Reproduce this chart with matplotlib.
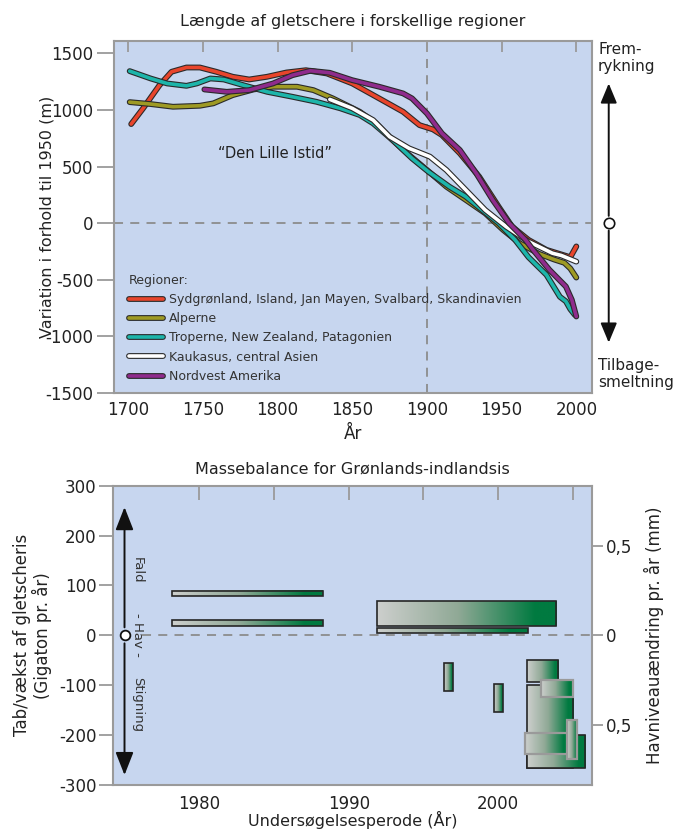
import numpy as np
import matplotlib
matplotlib.use('Agg')
import matplotlib.pyplot as plt
import matplotlib.patheffects as pe
import matplotlib.transforms as mtransforms
from matplotlib.colors import LinearSegmentedColormap
from matplotlib.patches import Rectangle

# ---- top chart: glacier length relative to 1950 (m) ----
red_year = [1702, 1710, 1721, 1729, 1739, 1748, 1759, 1770, 1781, 1793, 1806, 1819, 1833,
            1850, 1868, 1884, 1895, 1904, 1910, 1922, 1935, 1948, 1957, 1968, 1980, 1991,
            1996, 2000]
red_val = [876, 1015, 1220, 1338, 1376, 1376, 1338, 1294, 1270, 1294, 1332, 1352, 1323,
           1235, 1103, 985, 867, 829, 779, 618, 411, 146, -30, -147, -235, -280, -300, -205]

olive_year = [1701, 1715, 1730, 1748, 1757, 1770, 1784, 1797, 1813, 1824, 1837, 1855, 1866,
              1877, 1888, 1900, 1913, 1926, 1939, 1951, 1962, 1975, 1985, 1992, 1996, 2000]
olive_val = [1070, 1053, 1029, 1038, 1059, 1132, 1182, 1206, 1206, 1176, 1103, 985, 882,
             735, 603, 470, 323, 206, 88, -59, -176, -270, -320, -350, -400, -480]

teal_year = [1701, 1715, 1726, 1739, 1746, 1755, 1764, 1777, 1793, 1810, 1826, 1842, 1855,
             1864, 1877, 1890, 1901, 1915, 1926, 1937, 1948, 1959, 1968, 1980, 1989, 1993,
             1996, 1999]
teal_val = [1344, 1279, 1235, 1214, 1235, 1279, 1270, 1220, 1161, 1117, 1073, 1015, 956,
            882, 735, 573, 455, 323, 235, 117, 0, -147, -300, -456, -650, -690, -760, -810]

white_year = [1835, 1850, 1864, 1875, 1888, 1902, 1913, 1926, 1939, 1953, 1968, 1984, 1990, 2000]
white_val = [1094, 1015, 911, 764, 662, 588, 470, 294, 117, -30, -162, -265, -285, -339]

purple_year = [1751, 1766, 1781, 1797, 1810, 1822, 1835, 1850, 1868, 1884, 1890, 1900, 1910,
               1922, 1933, 1944, 1955, 1966, 1971, 1982, 1993, 1997, 2000]
purple_val = [1182, 1161, 1176, 1235, 1308, 1347, 1329, 1264, 1206, 1147, 1103, 970, 794,
              647, 441, 206, 0, -147, -235, -412, -559, -677, -824]

region_names = ['Sydgrønland, Island, Jan Mayen, Svalbard, Skandinavien', 'Alperne',
                'Troperne, New Zealand, Patagonien', 'Kaukasus, central Asien', 'Nordvest Amerika']

# ---- bottom chart: Greenland ice sheet mass balance (Gt/yr) ----
period_start = [1978.2, 1978.2, 1991.9, 1991.9, 1996.4, 1999.7, 2001.9, 2001.9, 2001.9, 2002.9, 2001.8, 2004.6]
period_end = [1988.3, 1988.3, 2003.9, 2002.0, 1997.0, 2000.3, 2005.0, 2005.8, 2004.0, 2005.0, 2004.7, 2005.3]
balance_low = [78, 19, 19, 4, -112, -154, -266, -266, -93, -123, -238, -248]
balance_high = [89, 30, 69, 14, -56, -98, -100, -200, -50, -90, -195, -170]
light_edge = [False, False, False, False, False, False, False, False, False, True, True, True]

bg = '#c7d6ef'
frame = '#9a9a9a'
plt.rcParams['font.family'] = 'DejaVu Sans'
plt.rcParams['axes.unicode_minus'] = False

fig = plt.figure(figsize=(6.84, 8.31), dpi=100)

# ================= top =================
ax = fig.add_axes([114/684, 1-393/831, 478/684, 352/831])
ax.set_facecolor(bg)
for s in ax.spines.values():
    s.set_color(frame)
    s.set_linewidth(1.5)

series = [(red_year, red_val, '#e8452c'), (olive_year, olive_val, '#9e9a24'),
          (teal_year, teal_val, '#1db5aa'), (white_year, white_val, '#ffffff'),
          (purple_year, purple_val, '#8f2b8c')]
for (xs, ys, c), name in zip(series, region_names):
    ax.plot(xs, ys, color=c, lw=2.6, solid_capstyle='round', label=name, zorder=3,
            path_effects=[pe.Stroke(linewidth=4.2, foreground='#2a2a2a'), pe.Normal()])

ax.axhline(0, color='#8c8c8c', lw=1.3, ls=(0, (5, 4)), zorder=1)
ax.axvline(1900, color='#8c8c8c', lw=1.3, ls=(0, (5, 4)), zorder=1)

ax.set_xlim(1690.5, 2010.5)
ax.set_ylim(-1500, 1610)
ax.set_xticks(range(1700, 2001, 50))
ax.set_yticks(range(-1500, 1501, 500))
ax.tick_params(axis='x', bottom=False, top=True, direction='in', length=8, width=1.3,
               color=frame, labelsize=12, labelcolor='#222222', pad=6)
ax.tick_params(axis='y', direction='out', length=12, width=1.3, color=frame,
               labelsize=12, labelcolor='#222222', pad=3)
ax.set_xlabel('År', fontsize=12, color='#222222', labelpad=4)
ax.set_ylabel('Variation i forhold til 1950 (m)', fontsize=11.5, color='#222222', labelpad=-7)
ax.set_title('Længde af gletschere i forskellige regioner', fontsize=11.5, color='#222222', pad=11)

ax.text(1798, 620, '“Den Lille Istid”', fontsize=10.5, color='#222222', ha='center', va='center')

leg = ax.legend(loc='lower left', bbox_to_anchor=(0.01, 0.0), frameon=False, fontsize=9,
                title='Regioner:', title_fontsize=9, handlelength=2.7, labelspacing=0.5,
                handletextpad=0.5, borderpad=0.3, alignment='left')
for t in leg.get_texts():
    t.set_color('#333333')
leg.get_title().set_color('#333333')

# right side arrow (advance / retreat)
tr = mtransforms.blended_transform_factory(ax.transAxes, ax.transData)
ax.annotate('', xy=(1.035, 1235), xytext=(1.035, 65), xycoords=tr, textcoords=tr,
            arrowprops=dict(arrowstyle='-|>,head_length=1.2,head_width=0.5', color='#111111',
                            lw=1.4, shrinkA=0, shrinkB=0), annotation_clip=False)
ax.annotate('', xy=(1.035, -1055), xytext=(1.035, -65), xycoords=tr, textcoords=tr,
            arrowprops=dict(arrowstyle='-|>,head_length=1.2,head_width=0.5', color='#111111',
                            lw=1.4, shrinkA=0, shrinkB=0), annotation_clip=False)
ax.plot([1.035], [0], 'o', ms=7.5, mfc='white', mec='#111111', mew=1.2, transform=tr, clip_on=False)
fig.text(598/684, 1-42/831, 'Frem-\nrykning', fontsize=11, color='#222222', va='top', ha='left',
         linespacing=1.15)
fig.text(598/684, 1-390/831, 'Tilbage-\nsmeltning', fontsize=11, color='#222222', va='bottom',
         ha='left', linespacing=1.15)

# ================= bottom =================
bx = fig.add_axes([113.3/684, 1-785/831, 479/684, 299.3/831])
bx.set_facecolor(bg)
for s in bx.spines.values():
    s.set_color(frame)
    s.set_linewidth(1.5)

cmap = LinearSegmentedColormap.from_list('gg', [(0, '#cdcfcd'), (0.45, '#90a996'),
                                                (0.88, '#007a40'), (1, '#007a40')])
grad = np.linspace(0, 1, 256).reshape(1, -1)
for i, (x0, x1, y0, y1, le) in enumerate(zip(period_start, period_end, balance_low,
                                             balance_high, light_edge)):
    z = 3 + i * 0.1
    bx.imshow(grad, cmap=cmap, extent=(x0, x1, y0, y1), aspect='auto', zorder=z,
              interpolation='bilinear')
    bx.add_patch(Rectangle((x0, y0), x1 - x0, y1 - y0, fill=False,
                           ec='#9a9a9a' if le else '#262626', lw=1.6 if le else 1.2,
                           zorder=z + 0.05))

bx.axhline(0, xmin=0.06, color='#8c8c8c', lw=1.3, ls=(0, (5, 4)), zorder=1)

bx.set_xlim(1974.25, 2006.3)
bx.set_ylim(-300, 300)
bx.set_xticks([1980, 1985, 1990, 1995, 2000, 2005])
bx.set_xticklabels(['1980', '', '1990', '', '2000', ''])
bx.set_yticks(range(-300, 301, 100))
bx.tick_params(axis='x', bottom=False, top=True, direction='in', length=10, width=1.3,
               color=frame, labelsize=12, labelcolor='#222222', pad=7)
bx.tick_params(axis='y', direction='out', length=10, width=1.3, color=frame,
               labelsize=12, labelcolor='#222222', pad=2)
bx.set_xlabel('Undersøgelsesperode (År)', fontsize=11.5, color='#222222', labelpad=-1)
bx.set_ylabel('Tab/vækst af gletscheris\n(Gigaton pr. år)', fontsize=12, color='#222222',
              labelpad=5, linespacing=1.1)
bx.set_title('Massebalance for Grønlands-indlandsis', fontsize=11.5, color='#222222', pad=9)

bx2 = bx.twinx()
bx2.set_ylim(-300/360, 300/360)
bx2.set_yticks([-0.5, 0, 0.5])
bx2.set_yticklabels(['0,5', '0', '0,5'])
bx2.tick_params(axis='y', direction='out', length=8, width=1.3, color=frame,
                labelsize=12, labelcolor='#222222', pad=2)
for s in bx2.spines.values():
    s.set_visible(False)
bx2.set_ylabel('Havniveauændring pr. år (mm)', fontsize=12, color='#222222', labelpad=8)

# left arrow (sea level fall / rise)
bx.annotate('', xy=(1975.0, 257), xytext=(1975.0, 16),
            arrowprops=dict(arrowstyle='-|>,head_length=1.4,head_width=0.55', color='#111111',
                            lw=1.4, shrinkA=0, shrinkB=0))
bx.annotate('', xy=(1975.0, -280), xytext=(1975.0, -16),
            arrowprops=dict(arrowstyle='-|>,head_length=1.4,head_width=0.55', color='#111111',
                            lw=1.4, shrinkA=0, shrinkB=0))
bx.plot([1975.0], [0], 'o', ms=7, mfc='white', mec='#111111', mew=1.3, zorder=5)
bx.text(1975.85, 130, 'Fald', rotation=-90, fontsize=9.5, color='#333333', ha='center', va='center')
bx.text(1975.85, 0, '- Hav -', rotation=-90, fontsize=9.5, color='#333333', ha='center', va='center')
bx.text(1975.85, -138, 'Stigning', rotation=-90, fontsize=9.5, color='#333333', ha='center', va='center')

fig.savefig('out.png', dpi=100, facecolor='white')
